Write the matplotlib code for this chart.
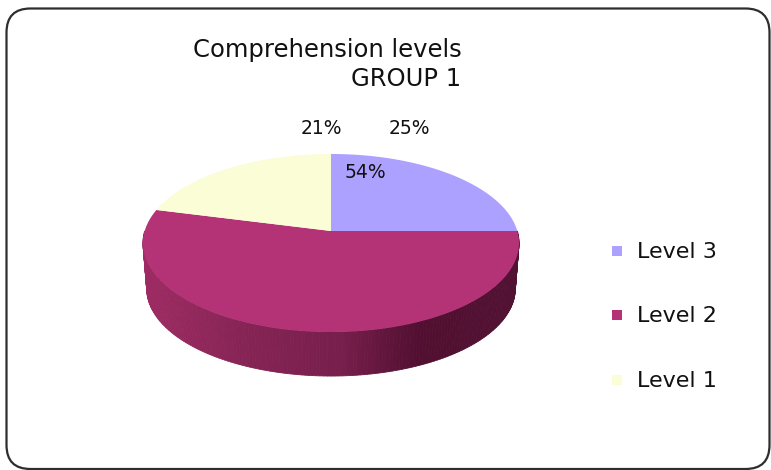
import numpy as np
import matplotlib.pyplot as plt
from matplotlib.patches import FancyBboxPatch

labels = ["Level 3", "Level 2", "Level 1"]
values = [25, 54, 21]
pct_labels = ["25%", "54%", "21%"]
colors = ["#ada1ff", "#b43276", "#fbfdd6"]

# pie geometry in pixels (the chart is drawn in perspective)
cx, cy = 331, 231
c, b, a = 186.3, 87.4, 0.1348
depth = 45.8
shrink = 0.98


def project(theta):
    u = np.cos(theta)
    v = np.sin(theta)
    s = 1 / (1 + a * v)
    return cx + c * u * s, cy - b * v * s


def rim_bottom(theta):
    x, y = project(theta)
    return cx + (x - cx) * shrink, 243 + (y - 243) * shrink + depth


def side_color(x):
    r = np.interp(x, [143, 250, 340, 420, 520], [0.62, 0.52, 0.47, 0.32, 0.32])
    g = np.interp(x, [143, 250, 340, 420, 520], [0.17, 0.14, 0.12, 0.06, 0.07])
    bl = np.interp(x, [143, 250, 340, 420, 520], [0.39, 0.33, 0.30, 0.19, 0.20])
    return (r, g, bl)


fig = plt.figure(figsize=(7.71, 4.70), dpi=100)
ax = fig.add_axes([0, 0, 1, 1])
ax.set_xlim(0, 771)
ax.set_ylim(470, 0)
ax.axis("off")

box = FancyBboxPatch((6.5, 8.5), 763, 460.5, boxstyle="round,pad=0,rounding_size=24",
                     facecolor="white", edgecolor="#2e2e2e", linewidth=1.6)
ax.add_patch(box)

# side wall, drawn as thin strips
angles = np.radians(np.arange(180, 361, 1.0))
for t0, t1 in zip(angles[:-1], angles[1:]):
    x0, y0 = project(t0)
    x1, y1 = project(t1)
    x2, y2 = rim_bottom(t1)
    x3, y3 = rim_bottom(t0)
    col = side_color((x0 + x1) / 2)
    ax.fill([x0, x1, x2, x3], [y0, y1, y2, y3], color=col, linewidth=0.6)

# top face, clockwise from 12 o'clock
start = 90.0
for val, col in zip(values, colors):
    sweep = val / sum(values) * 360
    th = np.radians(np.linspace(start, start - sweep, 200))
    xs, ys = project(th)
    ax.fill(np.r_[cx, xs], np.r_[cy, ys], color=col, linewidth=0)
    start -= sweep

ax.text(193, 50, "Comprehension levels", fontsize=17.5, color="#111111", ha="left", va="center")
ax.text(461, 79, "GROUP 1", fontsize=17.5, color="#111111", ha="right", va="center")

ax.text(409, 128, pct_labels[0], fontsize=13.5, color="#111111", ha="center", va="center")
ax.text(365, 172, pct_labels[1], fontsize=13.5, color="#111111", ha="center", va="center")
ax.text(321, 128, pct_labels[2], fontsize=13.5, color="#111111", ha="center", va="center")

legend_y = [251, 315, 380]
for name, col, yy in zip(labels, colors, legend_y):
    ax.scatter([617], [yy], marker="s", s=62, color=col, linewidths=0)
    ax.text(637, yy + 1, name, fontsize=16, color="#111111", ha="left", va="center")

fig.savefig("out.png", dpi=100)
